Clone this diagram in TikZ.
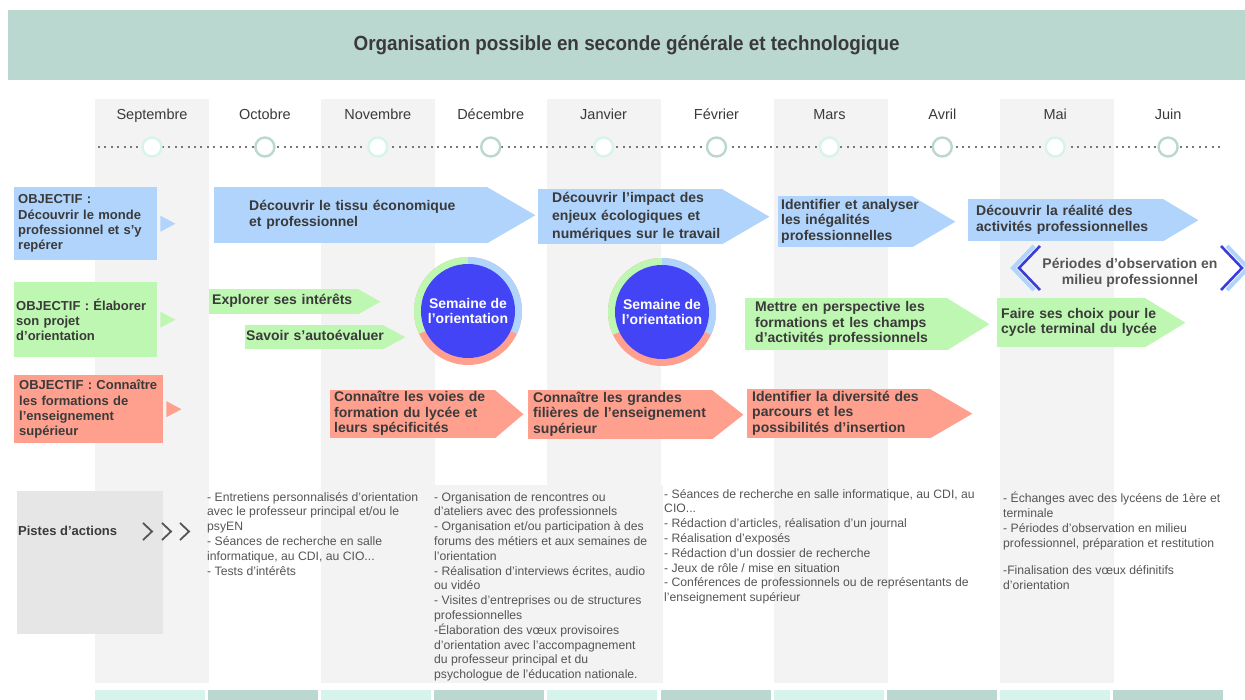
\documentclass[tikz,border=0pt]{standalone}
\usepackage{fontspec}
\setmainfont{Liberation Sans}
\newfontfamily\titlefont[FakeStretch=0.92]{Liberation Sans}
\usetikzlibrary{calc,positioning}

\definecolor{bannergreen}{RGB}{187,216,208}
\definecolor{mintlight}{RGB}{214,243,236}
\definecolor{colgray}{RGB}{243,243,243}
\definecolor{objblue}{RGB}{176,212,252}
\definecolor{objgreen}{RGB}{190,247,177}
\definecolor{objred}{RGB}{255,160,143}
\definecolor{weekblue}{RGB}{66,68,245}
\definecolor{chevblue}{RGB}{60,60,215}
\definecolor{txtdark}{RGB}{58,58,58}
\definecolor{txtgray}{RGB}{85,85,85}
\definecolor{pistegray}{RGB}{230,230,230}
\definecolor{dotgray}{RGB}{120,120,120}

% lines of an arrow, kept unbroken
\newcommand{\arrowtext}[1]{\begin{tabular}{@{}l@{}}#1\end{tabular}}

\pgfdeclarelayer{columns}
\pgfdeclarelayer{tips}
\pgfsetlayers{columns,tips,main}

\begin{document}
\begin{tikzpicture}[x=1pt,y=-1pt,
	monthcol/.style={fill=colgray},
	monthlabel/.style={anchor=base, font=\fontsize{14.5}{16}\selectfont, text=txtdark},
	dotmark/.style={circle, fill=white, line width=2.4pt, minimum size=19pt, inner sep=0pt},
	objbox/.style={rectangle, anchor=north west, inner xsep=4pt, inner ysep=0pt, align=left, text=txtdark, font=\bfseries\fontsize{13}{15.3}\selectfont},
	arrowbody/.style={rectangle, anchor=north west, inner sep=0pt, align=left, text=txtdark, font=\bfseries\fontsize{14}{15.5}\selectfont},
	weeknode/.style={circle, fill=weekblue, text=white, align=center, inner sep=0pt, minimum size=94pt, font=\bfseries\fontsize{14}{15}\selectfont},
	actiontext/.style={anchor=north west, align=left, inner sep=0pt, text=txtgray, font=\fontsize{12.2}{14.8}\selectfont}
	]
	\useasboundingbox (0,0) rectangle (1245,700);
	% Background columns
	\begin{pgfonlayer}{columns}
	\foreach \i in {0,2,4,6,8}
		\fill[monthcol] ({95+113.1*\i},99) rectangle ++(114,584);
	\fill[colgray] (435,485) rectangle (663,683);
	\foreach \c [count=\i from 0] in {mintlight,bannergreen,mintlight,bannergreen,mintlight,bannergreen,mintlight,bannergreen,mintlight,bannergreen}
		\fill[\c] ({95+113.1*\i},690) rectangle ++(110,12);
	\end{pgfonlayer}
	% Title
	\node[fill=bannergreen, anchor=north west, inner sep=0pt, minimum width=1237pt, minimum height=70pt, text=txtdark, font=\titlefont\bfseries\fontsize{20.5}{22}\selectfont] (Banner) at (8,10) {Organisation possible en seconde générale et technologique};
	% Timeline
	\coordinate (LineStart) at (98,147);
	\coordinate (LineEnd) at (1224,147);
	\draw[dotgray, line width=2pt, dash pattern=on 2pt off 4.4pt] (LineStart) -- (LineEnd);
	\foreach \m/\c [count=\i from 0] in {Septembre/mintlight, Octobre/bannergreen, Novembre/mintlight, Décembre/bannergreen, Janvier/mintlight, Février/bannergreen, Mars/mintlight, Avril/bannergreen, Mai/mintlight, Juin/bannergreen}{
		\node[monthlabel] (Month\i) at ({152+112.9*\i},120) {\m};
		\node[dotmark, draw=\c] (Dot\i) at ({152+112.9*\i},147) {};
	}
	% Objectives
	\node[objbox, fill=objblue, text width=135pt, minimum height=73pt] (ObjMonde) at (14,187) {OBJECTIF :\\Découvrir le monde\\professionnel et s'y\\repérer};
	\node[objbox, fill=objgreen, text width=139pt, minimum height=75pt, inner xsep=2pt] (ObjProjet) at (14,282) {OBJECTIF : Élaborer\\son projet\\d'orientation};
	\node[objbox, fill=objred, text width=139pt, minimum height=68pt, inner xsep=5pt] (ObjFormations) at (14,375) {OBJECTIF : Connaître\\les formations de\\l'enseignement\\supérieur};
	\foreach \n/\c in {ObjMonde/objblue, ObjProjet/objgreen, ObjFormations/objred}
		\fill[\c] ($(\n.east)+(3,-8)$) -- ($(\n.east)+(18,0)$) -- ($(\n.east)+(3,8)$) -- cycle;
	% Arrows
	\node[arrowbody, fill=objblue, minimum width=273pt, minimum height=56pt, text width=203pt] (TissuEco) at (214,187) {\arrowtext{Découvrir le tissu économique\\et professionnel}};
	\node[arrowbody, fill=objblue, minimum width=184pt, minimum height=55pt, text width=156pt, font=\bfseries\fontsize{14}{18}\selectfont] (ImpactEco) at (538,189) {\arrowtext{Découvrir l’impact des\\enjeux écologiques et\\numériques sur le travail}};
	\node[arrowbody, fill=objblue, minimum width=134pt, minimum height=51pt, text width=128pt] (Inegalites) at (778,196) {\arrowtext{Identifier et analyser\\les inégalités\\professionnelles}};
	\node[arrowbody, fill=objblue, minimum width=195pt, minimum height=42pt, text width=179pt] (RealiteAct) at (968,199) {\arrowtext{Découvrir la réalité des\\activités professionnelles}};
	\node[arrowbody, fill=objgreen, minimum width=149pt, minimum height=25pt, text width=143pt] (Interets) at (209,289) {\arrowtext{Explorer ses intérêts}};
	\node[arrowbody, fill=objgreen, minimum width=138pt, minimum height=24pt, text width=136pt] (Autoeval) at (245,325) {\arrowtext{Savoir s'autoévaluer}};
	\node[arrowbody, fill=objgreen, minimum width=202pt, minimum height=52pt, text width=182pt] (Perspective) at (745,298) {\arrowtext{Mettre en perspective les\\formations et les champs\\d’activités professionnels}};
	\node[arrowbody, fill=objgreen, minimum width=148pt, minimum height=49pt, text width=140pt] (ChoixCycle) at (997,298) {\arrowtext{Faire ses choix pour le\\cycle terminal du lycée}};
	\node[arrowbody, fill=objred, minimum width=165pt, minimum height=48pt, text width=157pt] (VoiesLycee) at (330,390) {\arrowtext{Connaître les voies de\\formation du lycée et\\leurs spécificités}};
	\node[arrowbody, fill=objred, minimum width=184pt, minimum height=49pt, text width=174pt] (Filieres) at (528,390) {\arrowtext{Connaître les grandes\\filières de l’enseignement\\supérieur}};
	\node[arrowbody, fill=objred, minimum width=183pt, minimum height=49pt, text width=173pt] (Diversite) at (747,389) {\arrowtext{Identifier la diversité des\\parcours et les\\possibilités d’insertion}};
	\begin{pgfonlayer}{tips}
	\foreach \n/\l/\c in {TissuEco/48/objblue, ImpactEco/47/objblue, Inegalites/43/objblue, RealiteAct/35/objblue, Interets/22/objgreen, Autoeval/22/objgreen, Perspective/42/objgreen, ChoixCycle/40/objgreen, VoiesLycee/28/objred, Filieres/31/objred, Diversite/42/objred}
		\fill[\c] ($(\n.north east)+(-0.5,0)$) -- ($(\n.east)+(\l,0)$) -- ($(\n.south east)+(-0.5,0)$) -- cycle;
	\end{pgfonlayer}
	% Semaines de l'orientation
	\coordinate (WeekCenterA) at (468,311);
	\coordinate (WeekCenterB) at (662,312);
	\foreach \w in {A,B}{
		\fill[objred] (WeekCenter\w) circle[radius=54];
		\fill[objgreen] (WeekCenter\w) -- ++(-90:54) arc[start angle=-90, end angle=-205, radius=54] -- cycle;
		\fill[objblue] (WeekCenter\w) -- ++(-90:54) arc[start angle=-90, end angle=25, radius=54] -- cycle;
		\node[weeknode] (Week\w) at (WeekCenter\w) {Semaine de\\l'orientation};
	}
	% Periodes d'observation
	\node[font=\bfseries\fontsize{14}{15.5}\selectfont, text=txtgray, align=center] (Periodes) at (1130,273) {Périodes d'observation en\\milieu professionnel};
	\coordinate (ChevL) at (1019,268);
	\coordinate (ChevR) at (1242,268);
	\draw[objblue, line width=4pt] ($(ChevL)+(15,-22)$) -- ($(ChevL)+(-6,0)$) -- ($(ChevL)+(15,22)$);
	\draw[chevblue, line width=2.6pt] ($(ChevL)+(21,-22)$) -- (ChevL) -- ($(ChevL)+(21,22)$);
	\draw[objblue, line width=4pt] ($(ChevR)+(-15,-22)$) -- ($(ChevR)+(6,0)$) -- ($(ChevR)+(-15,22)$);
	\draw[chevblue, line width=2.6pt] ($(ChevR)+(-21,-22)$) -- (ChevR) -- ($(ChevR)+(-21,22)$);
	% Pistes d'actions
	\node[fill=pistegray, anchor=north west, inner sep=0pt, minimum width=146pt, minimum height=143pt] (PistesBox) at (17,491) {};
	\node[anchor=west, inner sep=1pt, text=txtdark, font=\bfseries\fontsize{13}{15}\selectfont] (Pistes) at (17,531) {Pistes d'actions};
	\foreach \x in {143,162,180}
		\draw[txtgray, line width=1.8pt] (\x,523) -- ({\x+9},531.5) -- (\x,540);
	\node[actiontext] (ActionsSepOct) at (207,492) {- Entretiens personnalisés d'orientation\\avec le professeur principal et/ou le\\psyEN\\- Séances de recherche en salle\\informatique, au CDI, au CIO...\\- Tests d'intérêts};
	\node[actiontext] (ActionsNovDec) at (434,492) {- Organisation de rencontres ou\\d'ateliers avec des professionnels\\- Organisation et/ou participation à des\\forums des métiers et aux semaines de\\l'orientation\\- Réalisation d'interviews écrites, audio\\ou vidéo\\- Visites d'entreprises ou de structures\\professionnelles\\-Élaboration des vœux provisoires\\d'orientation avec l'accompagnement\\du professeur principal et du\\psychologue de l'éducation nationale.};
	\node[actiontext] (ActionsJanMar) at (664,489) {- Séances de recherche en salle informatique, au CDI, au\\CIO...\\- Rédaction d'articles, réalisation d'un journal\\- Réalisation d'exposés\\- Rédaction d'un dossier de recherche\\- Jeux de rôle / mise en situation\\- Conférences de professionnels ou de représentants de\\l'enseignement supérieur};
	\node[actiontext] (ActionsAvrJun) at (1003,492) {- Échanges avec des lycéens de 1ère et\\terminale\\- Périodes d'observation en milieu\\professionnel, préparation et restitution\\[13pt]-Finalisation des vœux définitifs\\d'orientation};
\end{tikzpicture}
\end{document}
